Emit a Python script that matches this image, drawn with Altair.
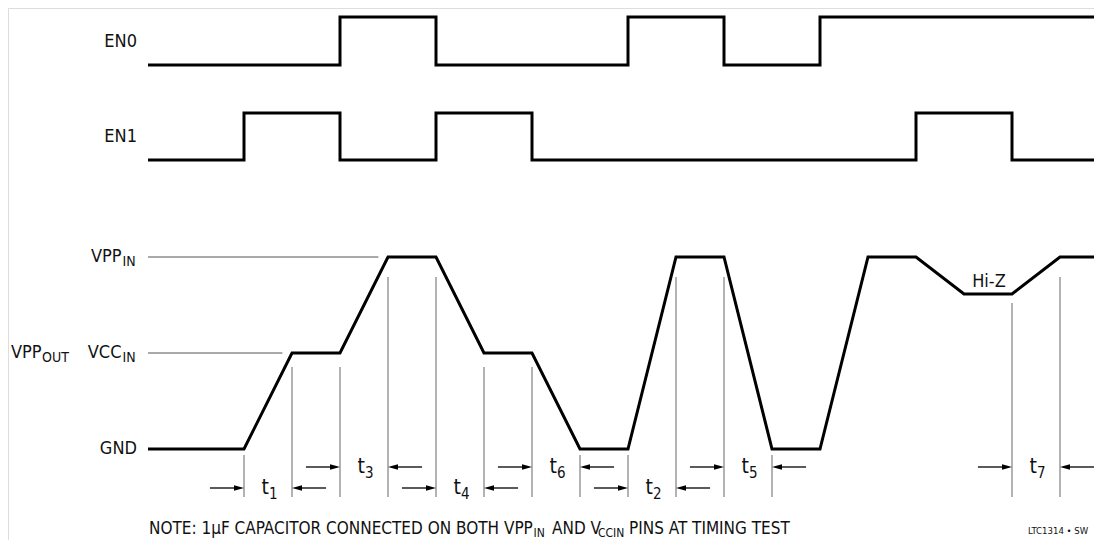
import altair as alt
import pandas as pd

# ---------------- data (time in grid units, levels symbolic) ----------------
EN0_T = [0, 4, 6, 10, 12, 14, 20]
EN0_L = ["H0", "H1", "H0", "H1", "H0", "H1", "H1"]
EN1_T = [0, 2, 4, 6, 8, 16, 18, 20]
EN1_L = ["H0", "H1", "H0", "H1", "H0", "H1", "H0", "H0"]
VPP_T = [0, 2, 3, 4, 5, 6, 7, 8, 9, 10, 11, 12, 13, 14, 15, 16, 17, 18, 19, 20]
VPP_L = ["GND", "GND", "VCC", "VCC", "VPP", "VPP", "VCC", "VCC", "GND", "GND",
         "VPP", "VPP", "GND", "GND", "VPP", "VPP", "HIZ", "HIZ", "VPP", "VPP"]

T_NAMES = ["1", "3", "4", "6", "2", "5", "7"]
T_START = [2, 4, 6, 8, 10, 12, 18]
T_END = [3, 5, 7, 9, 11, 13, 19]
T_ROW = [2, 1, 2, 1, 2, 1, 1]

REF_LEVELS = ["VPP", "VCC"]
REF_END = [4.8, 2.8]

# ---------------- layout (page pixels) ----------------
W, H = 1086, 532
X0, UNIT = 148, 48          # page x of t=0, pixels per time unit
def px2u(px):
    return (px - X0) / UNIT

EN0_Y = {"H0": 65, "H1": 17}
EN1_Y = {"H0": 160, "H1": 113}
OUT_Y = {"VPP": 257, "VCC": 353, "GND": 449, "HIZ": 294}
GUIDE_GAP = {"VPP": 20, "VCC": 14, "GND": 6, "HIZ": 9}
GUIDE_BOTTOM = 497
ROW_Y = {1: 467, 2: 488}
ARROW_LEN = 0.71
HEAD_GAP = 0.12

FONT = "DejaVu Sans Condensed, Liberation Sans Narrow, sans-serif"

xs = alt.Scale(domain=[px2u(8), px2u(8 + W)], nice=False, zero=False)
ys = alt.Scale(domain=[8, 8 + H], reverse=True, nice=False, zero=False)


def X(f="u"):
    return alt.X(f"{f}:Q", scale=xs, axis=None)


def Y(f="y"):
    return alt.Y(f"{f}:Q", scale=ys, axis=None)


# ---------------- tables ----------------
en = pd.DataFrame(
    [{"sig": "EN0", "i": i, "u": t, "y": EN0_Y[l]} for i, (t, l) in enumerate(zip(EN0_T, EN0_L))]
    + [{"sig": "EN1", "i": i, "u": t, "y": EN1_Y[l]} for i, (t, l) in enumerate(zip(EN1_T, EN1_L))]
)
out = pd.DataFrame([{"i": i, "u": t, "y": OUT_Y[l]} for i, (t, l) in enumerate(zip(VPP_T, VPP_L))])
lvl_at = dict(zip(VPP_T, VPP_L))

refs = pd.DataFrame({"u": [0] * len(REF_END), "u2": REF_END, "y": [OUT_Y[l] for l in REF_LEVELS]})

guide_u = sorted(set(T_START + T_END))
guides = pd.DataFrame({
    "u": guide_u,
    "y": [OUT_Y[lvl_at[u]] + GUIDE_GAP[lvl_at[u]] for u in guide_u],
    "y2": [GUIDE_BOTTOM] * len(guide_u),
})

shafts, heads_r, heads_l, tl, ts = [], [], [], [], []
for n, s, e, r in zip(T_NAMES, T_START, T_END, T_ROW):
    y = ROW_Y[r]
    shafts.append({"u": s - ARROW_LEN, "u2": s - HEAD_GAP, "y": y})
    shafts.append({"u": e + HEAD_GAP, "u2": e + ARROW_LEN, "y": y})
    heads_r.append({"u": s, "y": y})
    heads_l.append({"u": e, "y": y})
    c = (s + e) / 2
    tl.append({"u": c + px2u(X0 + 1), "y": y, "text": "t"})
    ts.append({"u": c + px2u(X0 + 1), "y": y + 6, "text": n})
shafts = pd.DataFrame(shafts)
heads_r = pd.DataFrame(heads_r)
heads_l = pd.DataFrame(heads_l)
tl = pd.DataFrame(tl)
ts = pd.DataFrame(ts)

labels_r = pd.DataFrame({
    "text": ["EN0", "EN1", "GND", "VPP", "VCC", "VPP"],
    "u": [px2u(137), px2u(137), px2u(137), px2u(121.5), px2u(121.5), px2u(41.5)],
    "y": [42, 137, 449, 257, 353, 353],
})
labels_sub = pd.DataFrame({
    "text": ["IN", "IN", "OUT"],
    "u": [px2u(122.5), px2u(122.5), px2u(42)],
    "y": [262, 358, 358],
})
hiz = pd.DataFrame({"text": ["Hi-Z"], "u": [px2u(989)], "y": [282]})

note_main = pd.DataFrame({
    "text": ["NOTE: 1\u03bcF CAPACITOR CONNECTED ON BOTH VPP", "AND V", "PINS AT TIMING TEST"],
    "u": [px2u(149), px2u(552), px2u(629)],
    "y": [529, 529, 529],
})
note_sub = pd.DataFrame({"text": ["IN", "CCIN"], "u": [px2u(533.5), px2u(598)], "y": [533, 533]})
code = pd.DataFrame({"text": ["LTC1314 \u2022 SW"], "u": [px2u(1028)], "y": [531]})

# ---------------- layers ----------------
wave_en = alt.Chart(en).mark_line(
    interpolate="step-after", color="black", strokeWidth=3, strokeJoin="miter", clip=True
).encode(x=X(), y=Y(), detail="sig:N", order="i:Q")

wave_out = alt.Chart(out).mark_line(
    color="black", strokeWidth=3, strokeJoin="miter", clip=True
).encode(x=X(), y=Y(), order="i:Q")

ref_rules = alt.Chart(refs).mark_rule(color="#555", strokeWidth=1).encode(x=X(), x2="u2:Q", y=Y())
guide_rules = alt.Chart(guides).mark_rule(color="#666", strokeWidth=1).encode(x=X(), y=Y(), y2="y2:Q")
shaft_rules = alt.Chart(shafts).mark_rule(color="black", strokeWidth=1.3).encode(x=X(), x2="u2:Q", y=Y())

PATH_R = "M0,0L-2,-0.55L-2,0.55Z"
PATH_L = "M0,0L2,-0.55L2,0.55Z"
head_r = alt.Chart(heads_r).mark_point(
    shape=PATH_R, size=100, filled=True, color="black", opacity=1, strokeWidth=0
).encode(x=X(), y=Y())
head_l = alt.Chart(heads_l).mark_point(
    shape=PATH_L, size=100, filled=True, color="black", opacity=1, strokeWidth=0
).encode(x=X(), y=Y())


def text_layer(df, size, align, color="#111"):
    return alt.Chart(df).mark_text(
        font=FONT, fontSize=size, align=align, baseline="middle", color=color
    ).encode(x=X(), y=Y(), text="text:N")


layers = [
    ref_rules, guide_rules, wave_en, wave_out, shaft_rules, head_r, head_l,
    text_layer(tl, 21, "right"), text_layer(ts, 15, "left"),
    text_layer(labels_r, 18, "right"), text_layer(labels_sub, 14, "left"),
    text_layer(hiz, 18, "center"),
    text_layer(note_main, 17, "left"), text_layer(note_sub, 12, "left"),
    text_layer(code, 9.5, "left"),
]

chart = alt.layer(*layers).properties(
    width=W, height=H, padding=0, autosize=alt.AutoSizeParams(type="none")
).configure_view(stroke=None).configure(background="white")

chart.save("out.html", embed_options={"renderer": "svg", "actions": False})
